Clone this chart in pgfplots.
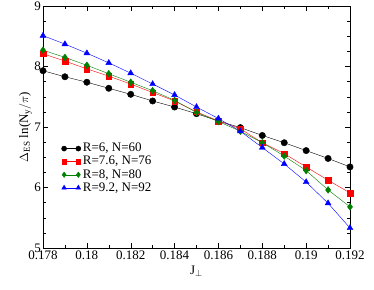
\documentclass[border=0pt]{standalone}
\usepackage{fontspec}
\setmainfont{Liberation Serif}
\usepackage{pgfplots}
\pgfplotsset{compat=1.18}
\begin{document}
\fontsize{13}{15}\selectfont
\begin{tikzpicture}
\begin{axis}[
  scale only axis, width=307pt, height=242pt,
  xmin=0.178, xmax=0.192, ymin=5, ymax=9,
  xtick={0.178,0.18,0.182,0.184,0.186,0.188,0.19,0.192},
  xticklabels={0.178,0.18,0.182,0.184,0.186,0.188,0.19,0.192},
  ytick={5,6,7,8,9},
  yticklabels={5,6,7,8,9},
  minor x tick num=1, minor y tick num=3,
  tick align=inside, major tick length=5pt, minor tick length=3pt,
  tick style={black, thin},
  axis line style={black, thin},
  x tick label style={yshift=-2pt, inner ysep=1pt},
  y tick label style={inner ysep=1pt, inner xsep=2pt},
  xlabel={J$_\perp$},
  ylabel={$\Delta_{\mathrm{ES}}$ ln(N$_{\mathrm{y}}/\pi$)},
  ylabel style={yshift=-4pt},
  xlabel style={yshift=0pt},
  legend style={draw=none, fill=none, at={(0.05,0.45)}, anchor=north west, font=\fontsize{13}{15}\selectfont, row sep=-1.5pt},
  legend cell align=left,
  legend image code/.code={\draw[mark repeat=1, mark options={scale=0.8}] plot coordinates {(0cm,0cm) (0.5cm,0cm)};},
  every axis plot/.append style={thin},
]
\addplot[black, mark=*, mark size=3.2pt] coordinates {
(0.178,7.93)(0.179,7.83)(0.180,7.74)(0.181,7.64)(0.182,7.54)(0.183,7.43)(0.184,7.33)
(0.185,7.22)(0.186,7.10)(0.187,6.99)(0.188,6.86)(0.189,6.74)(0.190,6.61)(0.191,6.48)(0.192,6.34)};
\addlegendentry{R=6, N=60}
\addplot[red, mark=square*, mark size=2.8pt] coordinates {
(0.178,8.21)(0.179,8.09)(0.180,7.96)(0.181,7.84)(0.182,7.71)(0.183,7.57)(0.184,7.43)
(0.185,7.25)(0.186,7.10)(0.187,6.97)(0.188,6.74)(0.189,6.56)(0.190,6.34)(0.191,6.12)(0.192,5.91)};
\addlegendentry{R=7.6, N=76}
\addplot[green!50!black, mark=diamond*, mark size=3.4pt] coordinates {
(0.178,8.27)(0.179,8.15)(0.180,8.02)(0.181,7.88)(0.182,7.74)(0.183,7.60)(0.184,7.44)
(0.185,7.24)(0.186,7.09)(0.187,6.93)(0.188,6.74)(0.189,6.52)(0.190,6.28)(0.191,5.96)(0.192,5.68)};
\addlegendentry{R=8, N=80}
\addplot[blue, mark=triangle*, mark size=3.4pt] coordinates {
(0.178,8.51)(0.179,8.37)(0.180,8.22)(0.181,8.06)(0.182,7.89)(0.183,7.71)(0.184,7.53)
(0.185,7.33)(0.186,7.14)(0.187,6.93)(0.188,6.66)(0.189,6.39)(0.190,6.09)(0.191,5.74)(0.192,5.33)};
\addlegendentry{R=9.2, N=92}
\end{axis}
\pgfresetboundingbox
\path ([xshift=-43pt,yshift=-42pt]current axis.south west) rectangle ([xshift=24pt,yshift=6pt]current axis.north east);
\end{tikzpicture}
\end{document}
